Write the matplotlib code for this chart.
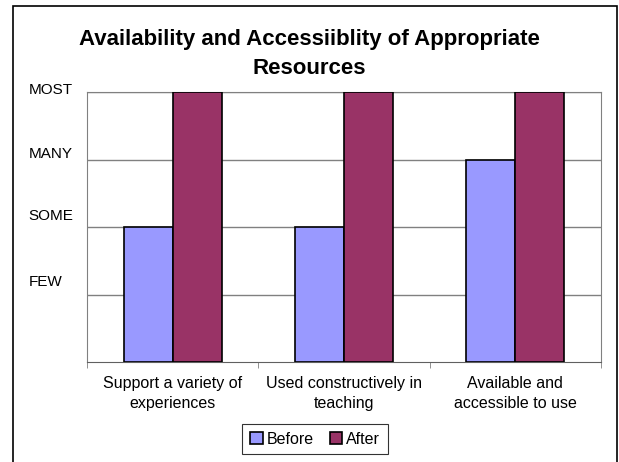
import numpy as np
import matplotlib
matplotlib.use("Agg")
import matplotlib.pyplot as plt
import matplotlib.transforms as mtransforms
from matplotlib.patches import Rectangle

plt.rcParams["font.family"] = ["Liberation Sans", "DejaVu Sans"]

categories = ["Support a variety of\nexperiences",
              "Used constructively in\nteaching",
              "Available and\naccessible to use"]
before = [2, 2, 3]
after = [4, 4, 4]
level_labels = ["FEW", "SOME", "MANY", "MOST"]
level_values = [1, 2, 3, 4]

W, H = 619, 462
fig = plt.figure(figsize=(W / 100, H / 100), dpi=100, facecolor="white")
ax = fig.add_axes([87 / W, 1 - 362 / H, (601 - 87) / W, (362 - 92) / H])

x = np.arange(len(categories))
w = 1 / 3.5
ax.bar(x - w / 2, before, w, color="#9999FF", edgecolor="black", linewidth=1.2,
       label="Before", zorder=3)
ax.bar(x + w / 2, after, w, color="#993366", edgecolor="black", linewidth=1.2,
       label="After", zorder=3)

ax.set_xlim(-0.5, len(categories) - 0.5)
ax.set_ylim(0, 4)
for v in level_values:
    ax.axhline(v, color="#808080", linewidth=1, zorder=1)

ax.set_xticks(x)
ax.set_xticklabels(categories, fontsize=11.5, linespacing=1.45)
ax.tick_params(axis="x", length=0, pad=10)
ax.set_xticks(np.arange(len(categories) + 1) - 0.5, minor=True)
ax.tick_params(axis="x", which="minor", length=4, color="#808080")

ax.set_yticks(level_values)
ax.set_yticklabels(level_labels, fontsize=11, ha="left")
ax.tick_params(axis="y", length=0, pad=42)
# Excel-style label drift above the gridlines (pixels, FEW..MOST)
lifts = [14, 13, 7, 3]
for lab, dy in zip(ax.get_yticklabels(), lifts):
    lab.set_transform(lab.get_transform()
                      + mtransforms.ScaledTranslation(0, dy / 100, fig.dpi_scale_trans))

for side in ["left", "right", "top"]:
    ax.spines[side].set_color("#808080")
ax.spines["bottom"].set_color("#606060")

fig.text(0.5, 1 - 39 / H, "Availability and Accessiiblity of Appropriate",
         ha="center", va="center", fontsize=16, fontweight="bold")
fig.text(0.5, 1 - 68 / H, "Resources",
         ha="center", va="center", fontsize=16, fontweight="bold")

leg = fig.legend(loc="center", bbox_to_anchor=(315 / W, 1 - 439 / H), ncol=2,
                 fontsize=11.5, frameon=True, fancybox=False, edgecolor="black",
                 handlelength=0.8, handleheight=0.8, handletextpad=0.25,
                 columnspacing=1.0, borderpad=0.5)
leg.get_frame().set_linewidth(0.8)

fig.patches.append(Rectangle((13 / W, -0.05), (617 - 13) / W, 1.05 - 6 / H,
                             transform=fig.transFigure, fill=False,
                             edgecolor="black", linewidth=1.2))

fig.savefig("out.png", dpi=100, facecolor="white")
